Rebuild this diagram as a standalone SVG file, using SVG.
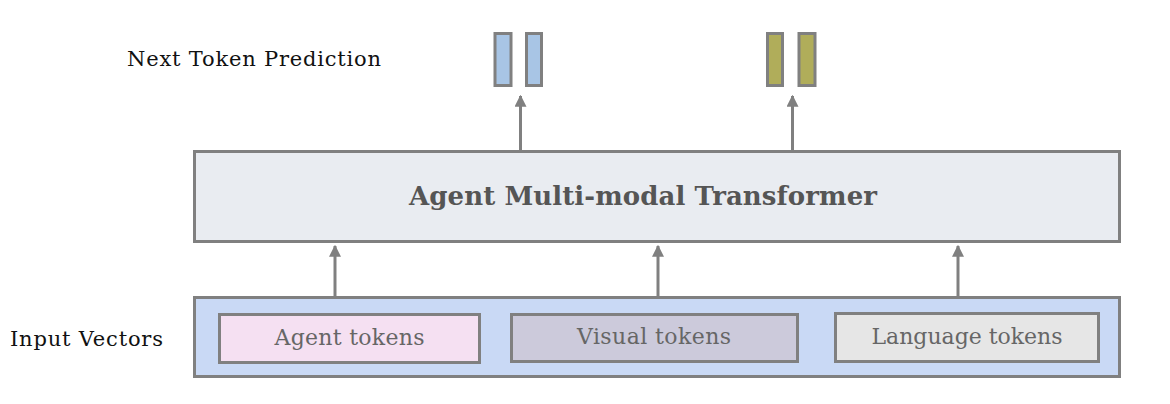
<svg xmlns="http://www.w3.org/2000/svg" width="1170" height="404" viewBox="0 0 1170 404">
<style>
.box{stroke:#808080;stroke-width:3}
.lbl{font-family:"DejaVu Serif","Liberation Serif",serif;font-size:21px;fill:#111}
.tok{font-family:"DejaVu Serif","Liberation Serif",serif;font-size:22px;fill:#666;text-anchor:middle}
.title{font-family:"DejaVu Serif","Liberation Serif",serif;font-size:26px;font-weight:bold;fill:#555;text-anchor:middle}
.conn{stroke:#808080;stroke-width:3;fill:none}
</style>
<defs>
<marker id="ah" viewBox="0 0 10 10" refX="9" refY="5" markerWidth="4" markerHeight="4" markerUnits="strokeWidth" orient="auto">
<path d="M0,0 L10,5 L0,10 z" fill="#808080"/>
</marker>
</defs>
<rect width="1170" height="404" fill="#fff"/>
<text class="lbl" x="127" y="66" textLength="254">Next Token Prediction</text>
<text class="lbl" x="10" y="346" textLength="153">Input Vectors</text>
<g id="out-blue">
<rect class="box" x="495" y="33.5" width="16" height="52" fill="#a8c5e5"/>
<rect class="box" x="526.5" y="33.5" width="15" height="52" fill="#a8c5e5"/>
</g>
<g id="out-olive">
<rect class="box" x="767.5" y="33.5" width="15" height="52" fill="#b0ad5a"/>
<rect class="box" x="799" y="33.5" width="16" height="52" fill="#b0ad5a"/>
</g>
<g id="transformer">
<rect class="box" x="194.5" y="151.5" width="925" height="90" fill="#e9ecf1"/>
<text class="title" x="643" y="205" textLength="468">Agent Multi-modal Transformer</text>
</g>
<g id="input-vectors">
<rect class="box" x="194.5" y="297.5" width="925" height="79" fill="#c9d9f5"/>
</g>
<g id="agent-tokens">
<rect class="box" x="219.5" y="314.5" width="260" height="48" fill="#f5e0f2"/>
<text class="tok" x="349.5" y="345" textLength="150">Agent tokens</text>
</g>
<g id="visual-tokens">
<rect class="box" x="511.5" y="314.5" width="286" height="47" fill="#cccadb"/>
<text class="tok" x="654" y="344" textLength="154">Visual tokens</text>
</g>
<g id="language-tokens">
<rect class="box" x="835.5" y="313.5" width="263" height="48" fill="#e6e6e6"/>
<text class="tok" x="967" y="344" textLength="191">Language tokens</text>
</g>
<g id="connectors">
<line class="conn" x1="520.5" y1="150" x2="520.5" y2="96" marker-end="url(#ah)"/>
<line class="conn" x1="792.5" y1="150" x2="792.5" y2="96" marker-end="url(#ah)"/>
<line class="conn" x1="335" y1="296" x2="335" y2="246" marker-end="url(#ah)"/>
<line class="conn" x1="658" y1="296" x2="658" y2="246" marker-end="url(#ah)"/>
<line class="conn" x1="958" y1="296" x2="958" y2="246" marker-end="url(#ah)"/>
</g>
</svg>
